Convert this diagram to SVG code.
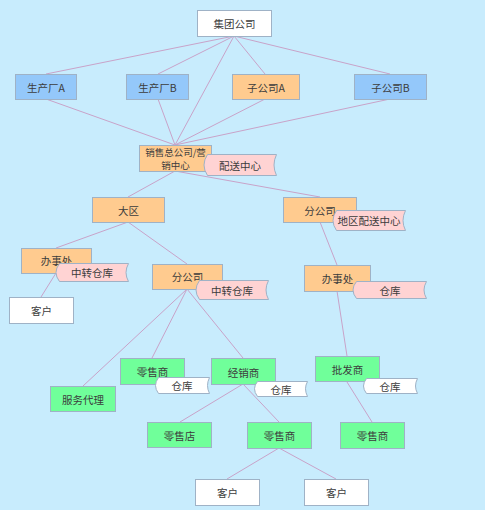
<svg xmlns="http://www.w3.org/2000/svg" width="485" height="510" viewBox="0 0 485 510">
<style>
.n{stroke:#9fb2c6;stroke-width:1}
.w{fill:#ffffff}
.b{fill:#94c8fa}
.o{fill:#ffcb8f}
.g{fill:#70ff9a}
.p{fill:#ffd3d3}
.t{font-family:"Noto Sans CJK SC","Liberation Sans",sans-serif;font-size:10.5px;fill:#3c3c3c;text-anchor:middle;dominant-baseline:central}
.s{font-size:9.5px}
.c line{stroke:#c9a3c9;stroke-width:1}
</style>
<rect width="485" height="510" fill="#c8ecfd"/>
<g class="c" id="connectors">
<line x1="234" y1="36" x2="46" y2="74"/>
<line x1="234" y1="36" x2="158" y2="74"/>
<line x1="234" y1="36" x2="265" y2="74"/>
<line x1="234" y1="36" x2="390" y2="74"/>
<line x1="234" y1="36" x2="175" y2="145"/>
<line x1="46" y1="99" x2="175" y2="145"/>
<line x1="158" y1="99" x2="175" y2="145"/>
<line x1="265" y1="99" x2="175" y2="145"/>
<line x1="390" y1="99" x2="175" y2="145"/>
<line x1="175" y1="171" x2="128" y2="197"/>
<line x1="175" y1="171" x2="320" y2="197"/>
<line x1="128" y1="222" x2="56" y2="248"/>
<line x1="128" y1="222" x2="187" y2="264"/>
<line x1="56" y1="273" x2="41" y2="297"/>
<line x1="320" y1="222" x2="337" y2="265"/>
<line x1="187" y1="289" x2="83" y2="386"/>
<line x1="187" y1="289" x2="152" y2="358"/>
<line x1="187" y1="289" x2="243" y2="358"/>
<line x1="337" y1="291" x2="347" y2="356"/>
<line x1="243" y1="384" x2="180" y2="422"/>
<line x1="243" y1="384" x2="279" y2="422"/>
<line x1="347" y1="382" x2="372" y2="422"/>
<line x1="279" y1="448" x2="227" y2="479"/>
<line x1="279" y1="448" x2="336" y2="479"/>
</g>
<g id="jituan"><rect class="n w" x="197.5" y="10.5" width="74" height="26"/><text class="t" x="234.5" y="23.5">集团公司</text></g>
<g id="scA"><rect class="n b" x="15.5" y="74.5" width="61" height="25"/><text class="t" x="46" y="87">生产厂A</text></g>
<g id="scB"><rect class="n b" x="126.5" y="74.5" width="62" height="25"/><text class="t" x="157.5" y="87">生产厂B</text></g>
<g id="zgsA"><rect class="n o" x="232.5" y="74.5" width="67" height="25"/><text class="t" x="266" y="87">子公司A</text></g>
<g id="zgsB"><rect class="n b" x="354.5" y="74.5" width="72" height="25"/><text class="t" x="390.5" y="87">子公司B</text></g>
<g id="xszgs"><rect class="n o" x="139.5" y="145.5" width="72" height="26"/><text class="t s" x="175.5" y="151.5">销售总公司/营</text><text class="t s" x="175.5" y="165">销中心</text></g>
<g id="psz"><path class="n p" d="M207.5,154.5 L276.5,154.5 Q271.5,165 276.5,175.5 L207.5,175.5 Q200.5,165 207.5,154.5 Z"/><text class="t" x="240" y="165">配送中心</text></g>
<g id="daqu"><rect class="n o" x="92.5" y="197.5" width="72" height="25"/><text class="t" x="128.5" y="210">大区</text></g>
<g id="fgs1"><rect class="n o" x="283.5" y="197.5" width="73" height="25"/><text class="t" x="320" y="210">分公司</text></g>
<g id="dqpsz"><path class="n p" d="M336.5,210.5 L405.5,210.5 Q400.5,220.5 405.5,230.5 L336.5,230.5 Q329.5,220.5 336.5,210.5 Z"/><text class="t" x="369" y="220.5">地区配送中心</text></g>
<g id="bsc1"><rect class="n o" x="21.5" y="248.5" width="70" height="25"/><text class="t" x="56.5" y="260">办事处</text></g>
<g id="zzck1"><path class="n p" d="M59.5,263.5 L128.5,263.5 Q123.5,272.5 128.5,281.5 L59.5,281.5 Q52.5,272.5 59.5,263.5 Z"/><text class="t" x="92" y="272.5">中转仓库</text></g>
<g id="kehu1"><rect class="n w" x="9.5" y="297.5" width="64" height="26"/><text class="t" x="41.5" y="310.5">客户</text></g>
<g id="fgs2"><rect class="n o" x="152.5" y="264.5" width="70" height="25"/><text class="t" x="187.5" y="276.5">分公司</text></g>
<g id="zzck2"><path class="n p" d="M199.5,280.5 L268.5,280.5 Q263.5,290 268.5,299.5 L199.5,299.5 Q192.5,290 199.5,280.5 Z"/><text class="t" x="232" y="290">中转仓库</text></g>
<g id="bsc2"><rect class="n o" x="304.5" y="265.5" width="66" height="26"/><text class="t" x="337.5" y="278">办事处</text></g>
<g id="ck1"><path class="n p" d="M356.5,281.5 L426.5,281.5 Q421.5,290 426.5,298.5 L356.5,298.5 Q349.5,290 356.5,281.5 Z"/><text class="t" x="390" y="290">仓库</text></g>
<g id="lss1"><rect class="n g" x="120.5" y="358.5" width="64" height="26"/><text class="t" x="152.5" y="371.5">零售商</text></g>
<g id="ck2"><path class="n w" d="M158.5,377.5 L209.5,377.5 Q205.5,385.5 209.5,393.5 L158.5,393.5 Q152.5,385.5 158.5,377.5 Z"/><text class="t" x="182" y="385.5">仓库</text></g>
<g id="fwdl"><rect class="n g" x="50.5" y="386.5" width="65" height="25"/><text class="t" x="83" y="399">服务代理</text></g>
<g id="jxs"><rect class="n g" x="211.5" y="358.5" width="64" height="26"/><text class="t" x="243.5" y="372">经销商</text></g>
<g id="ck3"><path class="n w" d="M257.5,381.5 L307.5,381.5 Q303.5,388.5 307.5,396.5 L257.5,396.5 Q251.5,388.5 257.5,381.5 Z"/><text class="t" x="281" y="389">仓库</text></g>
<g id="pfs"><rect class="n g" x="315.5" y="356.5" width="64" height="25"/><text class="t" x="347.5" y="369">批发商</text></g>
<g id="ck4"><path class="n w" d="M366.5,378.5 L417.5,378.5 Q413.5,386 417.5,393.5 L366.5,393.5 Q360.5,386 366.5,378.5 Z"/><text class="t" x="390" y="386">仓库</text></g>
<g id="lsd"><rect class="n g" x="147.5" y="422.5" width="64" height="25"/><text class="t" x="179.5" y="435">零售店</text></g>
<g id="lss2"><rect class="n g" x="247.5" y="422.5" width="64" height="26"/><text class="t" x="279.5" y="435.5">零售商</text></g>
<g id="lss3"><rect class="n g" x="340.5" y="422.5" width="64" height="26"/><text class="t" x="372.5" y="435.5">零售商</text></g>
<g id="kehu2"><rect class="n w" x="195.5" y="479.5" width="64" height="26"/><text class="t" x="227.5" y="492.5">客户</text></g>
<g id="kehu3"><rect class="n w" x="304.5" y="479.5" width="64" height="26"/><text class="t" x="336.5" y="492.5">客户</text></g>
</svg>
